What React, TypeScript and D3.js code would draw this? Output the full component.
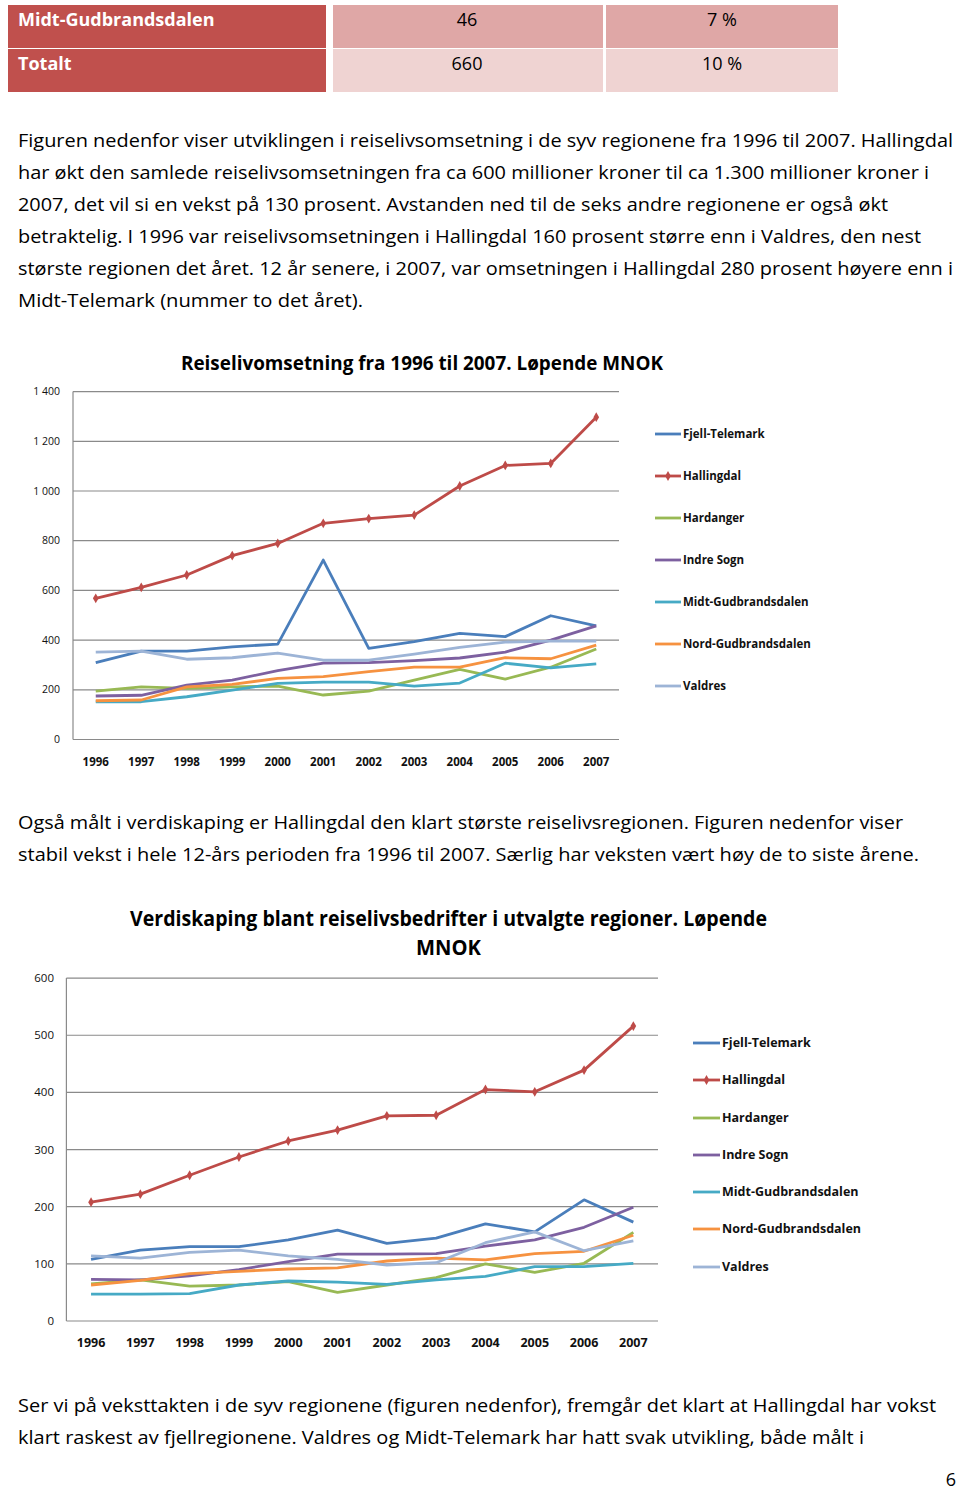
import React from "react";
import * as d3 from "d3";

// ---------- data ----------
const years = ["1996", "1997", "1998", "1999", "2000", "2001", "2002", "2003", "2004", "2005", "2006", "2007"];
const regions = ["Fjell-Telemark", "Hallingdal", "Hardanger", "Indre Sogn", "Midt-Gudbrandsdalen", "Nord-Gudbrandsdalen", "Valdres"];
const regionColors = ["#4A7EBB", "#BE4B48", "#98B954", "#7D60A0", "#46AAC5", "#F69240", "#9DB4D6"];

// Chart 1: Reiselivomsetning (MNOK)
const fjellTelemark1 = [309, 356, 356, 373, 384, 722, 367, 394, 427, 414, 498, 457];
const hallingdal1 = [568, 612, 662, 740, 789, 870, 889, 903, 1020, 1103, 1111, 1297];
const hardanger1 = [195, 212, 206, 212, 215, 179, 195, 239, 282, 243, 291, 364];
const indreSogn1 = [175, 178, 219, 239, 277, 307, 309, 317, 328, 352, 400, 457];
const midtGud1 = [152, 152, 172, 199, 226, 231, 231, 215, 227, 307, 288, 304];
const nordGud1 = [156, 159, 212, 222, 246, 253, 273, 291, 291, 329, 325, 380];
const valdres1 = [352, 356, 323, 329, 348, 319, 319, 344, 371, 392, 396, 396];
const ticks1 = [0, 200, 400, 600, 800, 1000, 1200, 1400];

// Chart 2: Verdiskaping (MNOK)
const fjellTelemark2 = [108, 124, 130, 130, 142, 159, 136, 145, 170, 156, 212, 173];
const hallingdal2 = [208, 222, 255, 287, 315, 334, 359, 360, 405, 401, 439, 516];
const hardanger2 = [65, 72, 61, 63, 69, 50, 63, 76, 100, 85, 101, 155];
const indreSogn2 = [73, 72, 79, 90, 104, 117, 117, 118, 131, 142, 164, 199];
const midtGud2 = [47, 47, 48, 63, 70, 68, 64, 72, 78, 95, 95, 101];
const nordGud2 = [63, 71, 83, 87, 91, 93, 105, 110, 107, 118, 122, 150];
const valdres2 = [114, 110, 120, 124, 114, 108, 98, 102, 137, 156, 123, 140];
const ticks2 = [0, 100, 200, 300, 400, 500, 600];

// Table
const tableRows = ["Midt-Gudbrandsdalen", "Totalt"];
const tableValues = ["46", "660"];
const tablePercents = ["7 %", "10 %"];

// Text
const para1 = [
  "Figuren nedenfor viser utviklingen i reiselivsomsetning i de syv regionene fra 1996 til 2007. Hallingdal",
  "har økt den samlede reiselivsomsetningen fra ca 600 millioner kroner til ca 1.300 millioner kroner i",
  "2007, det vil si en vekst på 130 prosent. Avstanden ned til de seks andre regionene er også økt",
  "betraktelig. I 1996 var reiselivsomsetningen i Hallingdal 160 prosent større enn i Valdres, den nest",
  "største regionen det året. 12 år senere, i 2007, var omsetningen i Hallingdal 280 prosent høyere enn i",
  "Midt-Telemark (nummer to det året).",
];
const para1Widths = [935, 911, 870, 903, 935, 345];
const para2 = [
  "Også målt i verdiskaping er Hallingdal den klart største reiselivsregionen. Figuren nedenfor viser",
  "stabil vekst i hele 12-års perioden fra 1996 til 2007. Særlig har veksten vært høy de to siste årene.",
];
const para2Widths = [885, 901];
const para3 = [
  "Ser vi på veksttakten i de syv regionene (figuren nedenfor), fremgår det klart at Hallingdal har vokst",
  "klart raskest av fjellregionene. Valdres og Midt-Telemark har hatt svak utvikling, både målt i",
];
const para3Widths = [918, 846];

const FONT = "'Open Sans', 'Liberation Sans', sans-serif";

type ChartProps = {
  series: number[][];
  ticks: number[];
  x0: number; x1: number; yTop: number; yBottom: number;
  yMax: number;
  tickFormat: (v: number) => string;
  tickLabelX: number; tickFont: number;
  xLabelY: number; xFont: number;
  legendLineX0: number; legendLineX1: number; legendTextX: number;
  legendYs: number[]; legendFont: number;
};

function LineChart(p: ChartProps) {
  const x = d3.scalePoint<string>().domain(years).range([p.x0, p.x1]).padding(0.5);
  const y = d3.scaleLinear().domain([0, p.yMax]).range([p.yBottom, p.yTop]);
  const line = d3.line<number>().x((_, i) => x(years[i]) as number).y((d) => y(d));
  const diamond = d3.symbol().type(d3.symbolDiamond).size(28)() as string;
  return (
    <g>
      {p.ticks.map((t) => (
        <g key={t}>
          <line x1={p.x0} x2={p.x1} y1={y(t)} y2={y(t)} stroke="#8a8a8a" strokeWidth={1.2} />
          <text x={p.tickLabelX} y={y(t)} dy="0.35em" textAnchor="end" fontSize={p.tickFont} fontFamily={FONT} fill="#111">
            {p.tickFormat(t)}
          </text>
        </g>
      ))}
      <line x1={p.x0} x2={p.x0} y1={p.yTop} y2={p.yBottom} stroke="#8a8a8a" strokeWidth={1.2} />
      {years.map((yr) => (
        <text key={yr} x={x(yr) as number} y={p.xLabelY} dy="0.35em" textAnchor="middle" fontSize={p.xFont} fontWeight="bold" fontFamily={FONT} fill="#111">
          {yr}
        </text>
      ))}
      {p.series.map((s, si) => (
        <g key={si}>
          <path d={line(s) as string} fill="none" stroke={regionColors[si]} strokeWidth={2.8} strokeLinejoin="round" />
          {si === 1 &&
            s.map((v, i) => (
              <path key={i} d={diamond} transform={`translate(${x(years[i])},${y(v)})`} fill={regionColors[si]} />
            ))}
        </g>
      ))}
      {regions.map((r, i) => (
        <g key={r}>
          <line x1={p.legendLineX0} x2={p.legendLineX1} y1={p.legendYs[i]} y2={p.legendYs[i]} stroke={regionColors[i]} strokeWidth={2.8} />
          {i === 1 && (
            <path d={diamond} transform={`translate(${(p.legendLineX0 + p.legendLineX1) / 2},${p.legendYs[i]})`} fill={regionColors[i]} />
          )}
          <text x={p.legendTextX} y={p.legendYs[i]} dy="0.35em" fontSize={p.legendFont} fontWeight="bold" fontFamily={FONT} fill="#111">
            {r}
          </text>
        </g>
      ))}
    </g>
  );
}

function Para({ lines, widths, y0 }: { lines: string[]; widths: number[]; y0: number }) {
  return (
    <g>
      {lines.map((l, i) => (
        <text key={i} x={18} y={y0 + i * 32} fontSize={19} fontFamily={FONT} fill="#000" textLength={widths[i]} lengthAdjust="spacingAndGlyphs">
          {l}
        </text>
      ))}
    </g>
  );
}

export default function App() {
  const fmt1 = (v: number) => (v >= 1000 ? `${Math.floor(v / 1000)} ${String(v % 1000).padStart(3, "0")}` : String(v));
  const series1 = [fjellTelemark1, hallingdal1, hardanger1, indreSogn1, midtGud1, nordGud1, valdres1];
  const series2 = [fjellTelemark2, hallingdal2, hardanger2, indreSogn2, midtGud2, nordGud2, valdres2];
  const rowY = [5, 49];
  const rowColors = ["#DFA7A6", "#EFD3D2"];
  return (
    <svg width={960} height={1493} style={{ position: "absolute", left: 0, top: 0, background: "#fff" }}>
      <rect width={960} height={1493} fill="#fff" />
      {/* table */}
      {tableRows.map((r, i) => (
        <g key={r}>
          <rect x={8} y={rowY[i]} width={318} height={43} fill="#C0504D" />
          <rect x={333} y={rowY[i]} width={270} height={43} fill={rowColors[i]} />
          <rect x={606} y={rowY[i]} width={232} height={43} fill={rowColors[i]} />
          <text x={18} y={rowY[i] + 15} dy="0.35em" fontSize={18} fontWeight="bold" fontFamily={FONT} fill="#fff">{r}</text>
          <text x={467} y={rowY[i] + 15} dy="0.35em" fontSize={18} textAnchor="middle" fontFamily={FONT} fill="#000">{tableValues[i]}</text>
          <text x={722} y={rowY[i] + 15} dy="0.35em" fontSize={18} textAnchor="middle" fontFamily={FONT} fill="#000">{tablePercents[i]}</text>
        </g>
      ))}

      <Para lines={para1} widths={para1Widths} y0={147} />

      <text x={181} y={370} fontSize={19} fontWeight="bold" fontFamily={FONT} fill="#000" textLength={482} lengthAdjust="spacingAndGlyphs">
        Reiselivomsetning fra 1996 til 2007. Løpende MNOK
      </text>
      <LineChart
        series={series1}
        ticks={ticks1}
        x0={73} x1={619} yTop={391.6} yBottom={739.5} yMax={1400}
        tickFormat={fmt1}
        tickLabelX={60} tickFont={10.5}
        xLabelY={762} xFont={11.5}
        legendLineX0={655} legendLineX1={681} legendTextX={683}
        legendYs={[434, 476, 518, 560, 602, 644, 686]} legendFont={11.5}
      />

      <Para lines={para2} widths={para2Widths} y0={829} />

      <text x={448.5} y={926} textAnchor="middle" fontSize={21} fontWeight="bold" fontFamily={FONT} fill="#000" textLength={637} lengthAdjust="spacingAndGlyphs">
        Verdiskaping blant reiselivsbedrifter i utvalgte regioner. Løpende
      </text>
      <text x={448.5} y={955} textAnchor="middle" fontSize={21} fontWeight="bold" fontFamily={FONT} fill="#000" textLength={65} lengthAdjust="spacingAndGlyphs">
        MNOK
      </text>
      <LineChart
        series={series2}
        ticks={ticks2}
        x0={66.4} x1={658} yTop={978.1} yBottom={1321} yMax={600}
        tickFormat={(v) => String(v)}
        tickLabelX={54} tickFont={11.5}
        xLabelY={1343} xFont={12.5}
        legendLineX0={693} legendLineX1={720} legendTextX={722}
        legendYs={[1043, 1080, 1118, 1155, 1192, 1229, 1267]} legendFont={12.5}
      />

      <Para lines={para3} widths={para3Widths} y0={1412} />
      <text x={951} y={1486} textAnchor="middle" fontSize={18} fontFamily={FONT} fill="#000">6</text>
    </svg>
  );
}
